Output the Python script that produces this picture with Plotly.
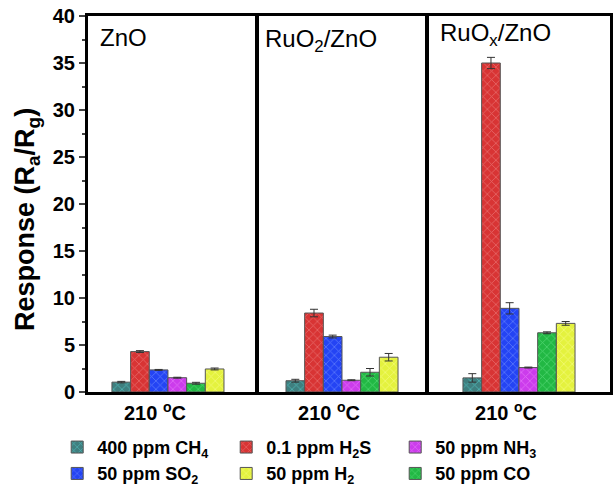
import plotly.graph_objects as go

panels = ["ZnO", "RuO<sub>2</sub>/ZnO", "RuO<sub>x</sub>/ZnO"]
temp_label = "210 <sup>o</sup>C"
y_title = "Response (R<sub>a</sub>/R<sub>g</sub>)"

gases = ["400 ppm CH<sub>4</sub>", "0.1 ppm H<sub>2</sub>S", "50 ppm SO<sub>2</sub>",
         "50 ppm NH<sub>3</sub>", "50 ppm CO", "50 ppm H<sub>2</sub>"]
# values per gas for [ZnO, RuO2/ZnO, RuOx/ZnO]
resp_ch4 = [1.05, 1.2, 1.5]
resp_h2s = [4.3, 8.4, 35.0]
resp_so2 = [2.35, 5.9, 8.9]
resp_nh3 = [1.52, 1.25, 2.6]
resp_co = [0.93, 2.1, 6.3]
resp_h2 = [2.45, 3.7, 7.3]
err_ch4 = [0.08, 0.15, 0.45]
err_h2s = [0.1, 0.4, 0.6]
err_so2 = [0.05, 0.15, 0.6]
err_nh3 = [0.05, 0.05, 0.05]
err_co = [0.1, 0.4, 0.1]
err_h2 = [0.1, 0.4, 0.2]

values = [resp_ch4, resp_h2s, resp_so2, resp_nh3, resp_co, resp_h2]
errors = [err_ch4, err_h2s, err_so2, err_nh3, err_co, err_h2]
colors = ["#3f7f7f", "#d83434", "#2444f4", "#cc3cec", "#22b844", "#e4f23e"]
hatch = ["#5ee8e8", "#f29a9a", "#8eaaff", "#f49cff", "#7cf29a", "#ffffa8"]
legend_rank = [1, 2, 4, 3, 6, 5]

FONT = "Arial, Liberation Sans"
fig = go.Figure()
domains = [[0.0, 0.3218], [0.3257, 0.6475], [0.6513, 1.0]]
xranges = [[-0.476, 0.524], [-0.5, 0.5], [-0.5417, 0.5417]]

for gi, g in enumerate(gases):
    for pi in range(3):
        fig.add_trace(go.Bar(
            x=[temp_label], y=[values[gi][pi]],
            name=g, legendgroup=g, showlegend=(pi == 0), legendrank=legend_rank[gi],
            xaxis="x" if pi == 0 else f"x{pi+1}",
            yaxis="y" if pi == 0 else f"y{pi+1}",
            marker=dict(color=colors[gi], line=dict(color="#555555", width=1),
                        pattern=dict(shape="x", fgcolor=hatch[gi], size=6, solidity=0.25)),
            error_y=dict(type="data", array=[errors[gi][pi]], color="#333333",
                         thickness=1, width=4),
        ))

layout = dict(
    width=613, height=501,
    margin=dict(l=88, r=3, t=16, b=109, autoexpand=False),
    plot_bgcolor="white", paper_bgcolor="white",
    barmode="group", bargap=0.333, bargroupgap=0,
    font=dict(family=FONT, color="black"),
    showlegend=True,
    legend=dict(orientation="h", x=-0.059, xanchor="left", y=-0.098, yanchor="top",
                entrywidth=124, entrywidthmode="pixels", tracegroupgap=0,
                font=dict(size=18, family=FONT, color="black", weight="bold"),
                traceorder="normal"),
)
for pi in range(3):
    xk = "xaxis" if pi == 0 else f"xaxis{pi+1}"
    yk = "yaxis" if pi == 0 else f"yaxis{pi+1}"
    layout[xk] = dict(domain=domains[pi], anchor="y" if pi == 0 else f"y{pi+1}",
                      range=xranges[pi], type="category",
                      showline=True, mirror=True, linecolor="black", linewidth=3,
                      ticks="", ticklabelshift=-13, ticklabelstandoff=1,
                      tickfont=dict(size=20, family=FONT, weight="bold"),
                      showgrid=False, zeroline=False)
    ydict = dict(domain=[0, 1], anchor="x" if pi == 0 else f"x{pi+1}",
                 range=[0, 40], showline=True, mirror=True, linecolor="black",
                 linewidth=3, showgrid=False, zeroline=False)
    if pi == 0:
        ydict.update(ticks="outside", ticklen=6, tickwidth=2, dtick=5,
                     tickfont=dict(size=20, family=FONT, weight="bold"),
                     minor=dict(ticks="outside", ticklen=3, tickwidth=2, dtick=2.5))
    else:
        ydict.update(showticklabels=False, ticks="", matches="y")
    layout[yk] = ydict

fig.update_layout(**layout)

# y-axis title
fig.add_annotation(text=y_title, xref="paper", yref="paper", x=-0.117, y=0.46,
                   xanchor="center", yanchor="middle", textangle=-90, showarrow=False,
                   font=dict(size=27, family=FONT, color="black", weight="bold"))

title_pos = [(0.0, 0.944, 10), (0.3257, 0.935, 5), (0.6513, 0.95, 10)]
for pi, name in enumerate(panels):
    fig.add_annotation(text=name, xref="paper", yref="paper",
                       x=title_pos[pi][0], y=title_pos[pi][1], xanchor="left", yanchor="middle",
                       xshift=title_pos[pi][2], showarrow=False,
                       font=dict(size=24, family=FONT, color="black"))

fig.write_html("out.html")
